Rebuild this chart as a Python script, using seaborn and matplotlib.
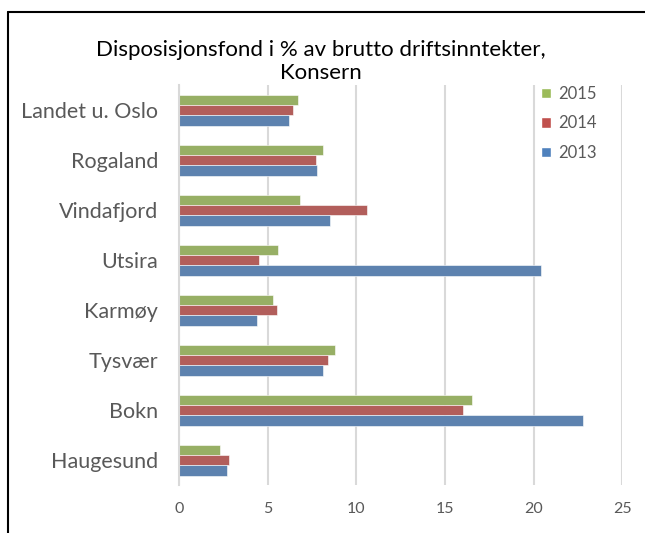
import matplotlib
matplotlib.use("Agg")
import matplotlib.pyplot as plt
import pandas as pd
import seaborn as sns
from matplotlib.lines import Line2D
from matplotlib.patches import Patch

# Data (top to bottom)
regions = ["Landet u. Oslo", "Rogaland", "Vindafjord", "Utsira",
           "Karmøy", "Tysvær", "Bokn", "Haugesund"]
years = ["2015", "2014", "2013"]
values_2015 = [6.7, 8.1, 6.8, 5.6, 5.3, 8.8, 16.5, 2.3]
values_2014 = [6.4, 7.7, 10.6, 4.5, 5.5, 8.4, 16.0, 2.8]
values_2013 = [6.2, 7.8, 8.5, 20.4, 4.4, 8.1, 22.8, 2.7]
x_ticks = [0, 5, 10, 15, 20, 25]

colors = {"2015": "#9BBB59", "2014": "#C0504D", "2013": "#4F81BD"}
text_gray = "#595959"

rows = []
for year, vals in zip(years, [values_2015, values_2014, values_2013]):
    for region, v in zip(regions, vals):
        rows.append({"region": region, "year": year, "value": v})
df = pd.DataFrame(rows)

sns.set_style("white")
plt.rcParams["font.family"] = ["Lato", "DejaVu Sans"]

fig = plt.figure(figsize=(6.45, 5.33), dpi=100)
ax = fig.add_axes([0.2775, 0.090, 0.6875, 0.7505])

sns.barplot(data=df, y="region", x="value", hue="year",
            order=regions, hue_order=years, palette=colors,
            width=0.62, orient="h", ax=ax, legend=False,
            edgecolor="white", linewidth=0.4)

ax.set_xlim(0, 25)
ax.set_ylim(7.5, -0.5)
ax.set_xticks(x_ticks)
ax.set_xticklabels([str(t) for t in x_ticks])
ax.set_xlabel("")
ax.set_ylabel("")
ax.xaxis.grid(True, color="#D9D9D9", linewidth=1.5)
ax.set_axisbelow(True)
for side in ["top", "right", "bottom"]:
    ax.spines[side].set_visible(False)
ax.spines["left"].set_color("#D9D9D9")
ax.spines["left"].set_linewidth(1.5)
ax.tick_params(axis="x", length=0, labelsize=11.5, colors=text_gray, pad=12)
ax.tick_params(axis="y", length=0, labelsize=15.5, colors=text_gray, pad=15)

handles = [Patch(facecolor=colors[y], label=y) for y in years]
leg = ax.legend(handles=handles, loc="upper right", bbox_to_anchor=(0.975, 1.035),
                frameon=False, fontsize=12, handlelength=0.6, handleheight=0.6,
                handletextpad=0.4, labelspacing=0.8)
for t in leg.get_texts():
    t.set_color(text_gray)

fig.text(0.497, 0.885, "Disposisjonsfond i % av brutto driftsinntekter,\nKonsern",
         ha="center", va="center", fontsize=16, color="black",
         multialignment="center", linespacing=1.2)

# chart border (left and top edges)
fig.add_artist(Line2D([8 / 645, 8 / 645], [0, 1 - 12 / 533], color="black",
                      linewidth=1.5, transform=fig.transFigure))
fig.add_artist(Line2D([8 / 645, 1], [1 - 12 / 533, 1 - 12 / 533], color="black",
                      linewidth=1.5, transform=fig.transFigure))

fig.savefig("out.png", dpi=100)
